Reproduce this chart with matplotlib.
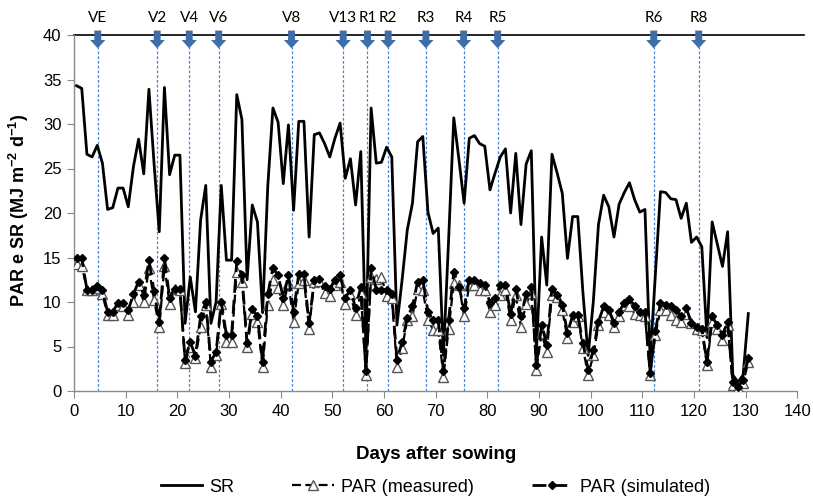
import numpy as np
import matplotlib
matplotlib.use("Agg")
import matplotlib.pyplot as plt

plt.rcParams['font.family'] = ['Liberation Sans', 'DejaVu Sans']
plt.rcParams['mathtext.fontset'] = 'custom'
plt.rcParams['mathtext.rm'] = 'Liberation Sans'
plt.rcParams['mathtext.bf'] = 'Liberation Sans:bold'

days = np.arange(0.5, 131, 1.0)

sr = [34.3, 34.0, 26.6, 26.3, 27.6, 25.6, 20.4, 20.6, 22.8, 22.8,
      20.7, 25.2, 28.3, 24.4, 33.9, 25.5, 17.9, 34.1, 24.3, 26.5,
      26.5, 7.6, 12.8, 8.9, 19.2, 23.1, 7.6, 10.0, 23.1, 14.7,
      14.7, 33.3, 30.5, 12.5, 20.9, 19.0, 8.8, 23.0, 31.8, 30.2,
      23.3, 29.9, 20.3, 30.3, 30.3, 17.3, 28.8, 29.0, 27.8, 26.3,
      28.4, 30.1, 23.9, 26.1, 20.9, 26.9, 4.5, 31.8, 25.6, 25.7,
      27.4, 26.3, 7.4, 12.5, 18.1, 21.1, 28.0, 28.6, 20.1, 17.7,
      18.3, 4.0, 17.0, 30.7, 26.0, 21.1, 28.4, 28.7, 27.8, 27.5,
      22.6, 24.5, 26.3, 27.2, 20.0, 26.7, 18.7, 25.5, 27.0, 4.5,
      17.3, 11.9, 26.6, 24.5, 22.2, 14.9, 19.6, 19.6, 11.0, 4.0,
      10.0, 18.7, 22.0, 20.7, 17.3, 21.0, 22.3, 23.4, 21.5, 20.1,
      20.4, 3.5, 13.0, 22.4, 22.3, 21.6, 21.5, 19.4, 21.1, 16.7,
      17.3, 16.2, 6.0, 19.0, 16.5, 14.0, 17.9, 1.8, 1.0, 1.8,
      8.7]

par_sim = [15.0, 14.9, 11.4, 11.4, 11.8, 11.3, 8.9, 8.9, 9.9, 9.9,
           9.1, 10.9, 12.3, 10.8, 14.7, 11.2, 7.8, 14.9, 10.5, 11.5,
           11.5, 3.5, 5.5, 3.9, 8.4, 10.0, 3.3, 4.4, 10.0, 6.3,
           6.3, 14.6, 13.0, 5.4, 9.2, 8.4, 3.3, 10.9, 13.8, 13.0,
           10.5, 13.0, 8.9, 13.2, 13.1, 7.6, 12.5, 12.6, 11.8, 11.5,
           12.5, 13.0, 10.5, 11.4, 9.3, 11.7, 2.2, 13.8, 11.4, 11.4,
           11.4, 10.9, 3.5, 5.5, 8.2, 9.5, 12.3, 12.5, 8.9, 8.0,
           8.0, 2.2, 8.0, 13.4, 11.7, 9.3, 12.5, 12.5, 12.1, 11.9,
           9.9, 10.5, 11.9, 11.9, 8.7, 11.5, 8.4, 10.9, 11.7, 2.9,
           7.4, 5.2, 11.5, 10.8, 9.7, 6.5, 8.5, 8.5, 5.4, 2.4,
           4.6, 7.8, 9.5, 9.1, 7.6, 8.9, 9.9, 10.3, 9.6, 8.9,
           8.9, 2.0, 6.7, 9.9, 9.7, 9.5, 9.1, 8.4, 9.3, 7.6,
           7.2, 7.0, 3.3, 8.4, 7.4, 6.3, 7.8, 1.0, 0.5, 1.2,
           3.7]

par_meas = [14.3, 14.1, 11.4, 11.4, 11.6, 10.9, 8.5, 8.5, 9.7, 9.6,
            8.5, 10.0, 11.9, 10.0, 13.8, 10.2, 7.2, 14.0, 9.8, 11.5,
            11.3, 3.2, 5.0, 3.7, 7.2, 9.7, 2.7, 4.0, 9.8, 5.5,
            5.5, 13.4, 12.3, 5.0, 8.7, 7.8, 2.7, 9.7, 12.5, 11.6,
            9.7, 12.1, 7.8, 12.1, 12.5, 7.0, 12.3, 12.4, 11.0, 10.7,
            11.9, 12.3, 9.8, 10.9, 8.5, 11.0, 1.8, 12.8, 12.6, 12.8,
            10.7, 10.5, 2.7, 4.8, 8.0, 8.4, 11.5, 11.3, 8.0, 6.9,
            6.9, 1.6, 7.0, 12.1, 11.9, 8.4, 11.9, 11.9, 11.3, 11.3,
            8.9, 9.7, 10.8, 11.3, 8.0, 10.8, 7.2, 9.8, 11.0, 2.4,
            6.5, 4.4, 10.8, 10.6, 9.1, 5.9, 7.8, 8.4, 4.8, 1.8,
            4.0, 7.4, 8.9, 8.5, 7.2, 8.4, 9.7, 9.5, 8.7, 8.5,
            8.4, 1.8, 6.3, 9.1, 9.1, 8.5, 8.0, 7.8, 8.7, 7.6,
            7.0, 6.8, 2.9, 7.8, 7.0, 5.7, 7.4, 0.7, 0.3, 0.9,
            3.3]

stage_labels = ['VE', 'V2', 'V4', 'V6', 'V8', 'V13', 'R1', 'R2', 'R3', 'R4', 'R5', 'R6', 'R8']
stage_days = [4.6, 16.1, 22.3, 28.0, 42.1, 52.1, 56.8, 60.8, 68.1, 75.4, 82.0, 112.2, 120.9]

W, H = 813, 497
fig = plt.figure(figsize=(W / 100, H / 100), dpi=100)
ax = fig.add_axes([74 / W, 1 - 391 / H, (797.4 - 74) / W, (391 - 35) / H])

ax.set_xlim(0, 140)
ax.set_ylim(0, 40)

# stage lines
ax.vlines(stage_days, 0, 38.6, colors='#4a86d8', linestyles=(0, (2.2, 1.6)), lw=0.9, zorder=1)

l1, = ax.plot(days, sr, color='black', lw=2.0, zorder=3, label='SR')
l2, = ax.plot(days, par_meas, color='black', lw=1.6, ls=(0, (4, 2)), marker='^',
              ms=6.5, mfc='white', mec='#555555', mew=1.0, zorder=4, label='PAR (measured)')
l3, = ax.plot(days, par_sim, color='black', lw=2.0, ls=(0, (5, 2.5)), marker='D',
              ms=4.5, mfc='black', mec='black', zorder=5, label='PAR (simulated)')

# top reference line at 40 (slightly longer than the axis)
ax.plot([0, 141.2], [40, 40], color='black', lw=1.2, clip_on=False, zorder=2)

# arrows and stage labels
for d, lab in zip(stage_days, stage_labels):
    ax.annotate('', xy=(d, 38.5), xytext=(d, 40.5),
                arrowprops=dict(arrowstyle='simple,head_length=0.55,head_width=1.0,tail_width=0.45',
                                fc='#3d6ea8', ec='#3d6ea8', lw=0, shrinkA=0, shrinkB=0,
                                mutation_scale=11),
                annotation_clip=False, zorder=6)
    ax.text(d, 41.9, lab, ha='center', va='center', fontsize=11,
            family=['Lato', 'DejaVu Sans'], clip_on=False)

for s in ['right', 'top']:
    ax.spines[s].set_visible(False)
for s in ['left', 'bottom']:
    ax.spines[s].set_color('#8a8a8a')
    ax.spines[s].set_linewidth(1.0)

ax.set_xticks(np.arange(0, 141, 10))
ax.set_yticks(np.arange(0, 41, 5))
ax.tick_params(axis='both', direction='out', length=5, color='#8a8a8a', labelsize=12, pad=4)

ax.set_xlabel('Days after sowing', fontsize=13.5, fontweight='bold')
ax.xaxis.set_label_coords(0.5, -0.155)
ax.set_ylabel(r'PAR e SR (MJ m$^{\mathbf{-2}}$ d$^{\mathbf{-1}}$)', fontsize=13, fontweight='bold')
ax.yaxis.set_label_coords(-0.06, 0.508)

ax.legend(handles=[l1, l2, l3], loc='center', bbox_to_anchor=(0.5, -0.27), ncol=3,
          frameon=False, fontsize=13, numpoints=1, handlelength=2.3, columnspacing=3.2,
          handletextpad=0.4)

fig.savefig('out.png', dpi=100)
